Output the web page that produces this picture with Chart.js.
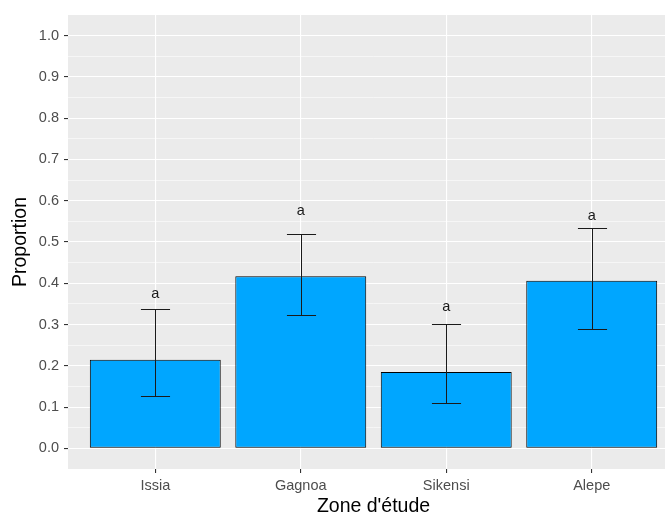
<!DOCTYPE html>
<html>
<head>
<meta charset="utf-8">
<script src="https://cdn.jsdelivr.net/npm/chart.js@4.4.0/dist/chart.umd.min.js"></script>
<style>
  html, body { margin: 0; padding: 0; background: #fff; width: 665px; height: 515px; overflow: hidden; }
  canvas { display: block; }
</style>
</head>
<body>
<canvas id="chart" width="690" height="515"></canvas>
<script>
// --- données ---
const zones = ['Issia', 'Gagnoa', 'Sikensi', 'Alepe'];
const proportions = [0.215, 0.417, 0.185, 0.406];
const errLow = [0.128, 0.324, 0.109, 0.290];
const errHigh = [0.337, 0.520, 0.302, 0.534];
const letters = ['a', 'a', 'a', 'a'];
const letterY = [0.373, 0.575, 0.343, 0.564];
const yTicks = [0.0, 0.1, 0.2, 0.3, 0.4, 0.5, 0.6, 0.7, 0.8, 0.9, 1.0];

const FONT = "'Liberation Sans', Arial, sans-serif";
const isMajor = v => yTicks.some(t => Math.abs(t - v) < 1e-6);

// fond gris du panneau (style ggplot)
const panelBg = {
    id: 'panelBg',
    beforeDraw(chart) {
        const a = chart.chartArea, ctx = chart.ctx;
        ctx.save();
        ctx.fillStyle = '#EBEBEB';
        ctx.fillRect(a.left, a.top, a.right - a.left, a.bottom - a.top);
        ctx.restore();
    }
};

// barres d'erreur + lettres
const errorBars = {
    id: 'errorBars',
    afterDatasetsDraw(chart) {
        const xs = chart.scales.x, ys = chart.scales.y, ctx = chart.ctx;
        ctx.save();
        ctx.strokeStyle = '#1a1a1a';
        ctx.lineWidth = 1;
        zones.forEach((z, i) => {
            const x = Math.round(xs.getPixelForValue(i + 1)) + 0.5;
            const half = xs.getPixelForValue(i + 1.1) - xs.getPixelForValue(i + 1);
            const yl = Math.round(ys.getPixelForValue(errLow[i])) + 0.5;
            const yh = Math.round(ys.getPixelForValue(errHigh[i])) + 0.5;
            ctx.beginPath();
            ctx.moveTo(x, yl); ctx.lineTo(x, yh);
            ctx.moveTo(x - half, yl); ctx.lineTo(x + half, yl);
            ctx.moveTo(x - half, yh); ctx.lineTo(x + half, yh);
            ctx.stroke();
        });
        ctx.fillStyle = '#1a1a1a';
        ctx.font = '14.5px ' + FONT;
        ctx.textAlign = 'center';
        ctx.textBaseline = 'middle';
        zones.forEach((z, i) => {
            ctx.fillText(letters[i], xs.getPixelForValue(i + 1), ys.getPixelForValue(letterY[i]));
        });
        ctx.restore();
    }
};

new Chart(document.getElementById('chart'), {
    type: 'bar',
    data: {
        datasets: [{
            data: zones.map((z, i) => ({ x: i + 1, y: proportions[i] })),
            backgroundColor: '#00A6FF',
            borderColor: '#000',
            borderWidth: 1,
            borderSkipped: false,
            barPercentage: 0.9,
            categoryPercentage: 1
        }]
    },
    options: {
        responsive: false,
        animation: false,
        layout: { padding: { top: 15, right: 11, left: 0, bottom: 0 } },
        plugins: { legend: { display: false }, tooltip: { enabled: false } },
        scales: {
            x: {
                type: 'linear',
                offset: false,
                min: 0.4,
                max: 4.6,
                afterBuildTicks: s => { s.ticks = zones.map((z, i) => ({ value: i + 1 })); },
                afterFit: s => { s.height = 46; },
                border: { display: false },
                grid: { offset: false, color: '#fff', lineWidth: 1.1, tickColor: '#333', tickLength: 4 },
                ticks: {
                    color: '#4D4D4D', font: { family: FONT, size: 14.5 }, padding: 4,
                    callback: v => zones[Math.round(v) - 1]
                },
                title: {
                    display: true, text: "Zone d'étude", color: '#000',
                    font: { family: FONT, size: 19.5, lineHeight: 1 }, padding: { top: 0, bottom: -1 }
                }
            },
            y: {
                min: -0.05,
                max: 1.05,
                afterBuildTicks: s => {
                    const vals = [];
                    yTicks.forEach((t, i) => {
                        vals.push(t);
                        if (i < yTicks.length - 1) vals.push((t + yTicks[i + 1]) / 2);
                    });
                    s.ticks = vals.map(v => ({ value: v }));
                },
                afterFit: s => { s.width = 68; },
                border: { display: false },
                grid: {
                    color: '#fff',
                    lineWidth: c => isMajor(c.tick.value) ? 1.1 : 0.55,
                    tickColor: c => isMajor(c.tick.value) ? '#333' : 'rgba(0,0,0,0)',
                    tickLength: 4
                },
                ticks: {
                    color: '#4D4D4D', font: { family: FONT, size: 14.5 }, padding: 5,
                    callback: v => isMajor(v) ? v.toFixed(1) : ''
                },
                title: {
                    display: true, text: 'Proportion', color: '#000',
                    font: { family: FONT, size: 19.5, lineHeight: 1 }, padding: { top: 10.5, bottom: 0 }
                }
            }
        }
    },
    plugins: [panelBg, errorBars]
});
</script>
</body>
</html>
